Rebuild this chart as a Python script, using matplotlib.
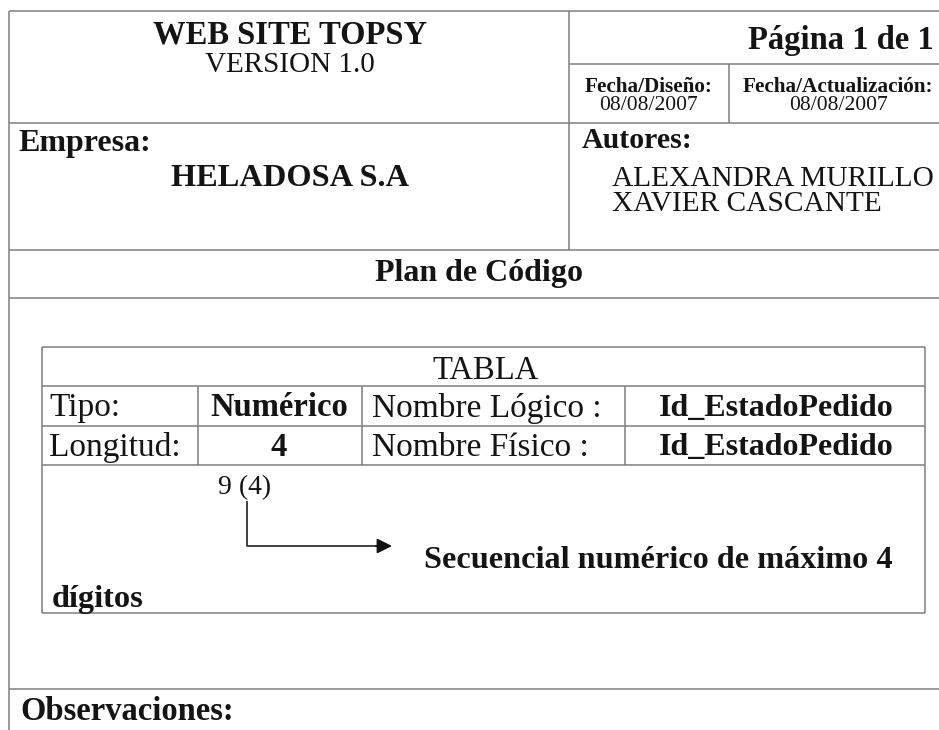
import matplotlib
matplotlib.use("Agg")
import matplotlib.pyplot as plt

# ---- content ----
title = "WEB SITE TOPSY"
version = "VERSION 1.0"
page = "Página 1 de 1"
date_labels = ["Fecha/Diseño:", "Fecha/Actualización:"]
date_values = ["08/08/2007", "08/08/2007"]
company_label = "Empresa:"
company = "HELADOSA S.A"
authors_label = "Autores:"
authors = ["ALEXANDRA MURILLO", "XAVIER CASCANTE"]
section = "Plan de Código"
table_title = "TABLA"
row_labels = ["Tipo:", "Longitud:"]
row_values = ["Numérico", "4"]
name_labels = ["Nombre Lógico :", "Nombre Físico :"]
name_values = ["Id_EstadoPedido", "Id_EstadoPedido"]
format_text = "9 (4)"
desc_line1 = "Secuencial numérico de máximo 4"
desc_line2 = "dígitos"
obs_label = "Observaciones:"

W, H = 939, 730
fig = plt.figure(figsize=(W / 100, H / 100), dpi=100)
ax = fig.add_axes([0, 0, 1, 1])
ax.set_xlim(0, W)
ax.set_ylim(H, 0)
ax.axis("off")

LC = "#7f7f7f"
LW = 1.1
TC = "#141414"
FF = "Liberation Serif"


def hline(y, x0, x1):
    ax.plot([x0, x1], [y, y], color=LC, lw=LW, solid_capstyle="butt")


def vline(x, y0, y1):
    ax.plot([x, x], [y0, y1], color=LC, lw=LW, solid_capstyle="butt")


def txt(x, y, s, size, bold=False, ha="left"):
    ax.text(x, y, s, fontsize=size, fontweight="bold" if bold else "normal",
            family=FF, color=TC, ha=ha, va="center")


# ---- outer frame ----
hline(11, 9, W)
vline(9, 11, H)
vline(569, 11, 250)
hline(64, 569, W)
vline(729, 64, 123)
hline(123, 9, W)
hline(250, 9, W)
hline(298, 9, W)
hline(689, 9, W)

# ---- header texts ----
txt(290, 35, title, 23.5, bold=True, ha="center")
txt(290, 65, version, 21, ha="center")
txt(934, 40, page, 23.5, bold=True, ha="right")
for cx, lab, val in zip([649, 838], date_labels, date_values):
    txt(cx, 87, lab, 15.3, bold=True, ha="center")
    txt(cx, 106, val, 15.5, ha="center")
txt(18, 143, company_label, 23, bold=True)
txt(290, 178, company, 23.3, bold=True, ha="center")
txt(582, 141, authors_label, 21.5, bold=True)
for i, a in enumerate(authors):
    txt(612, 179 + 25 * i, a, 21.2)
txt(479, 273, section, 23, bold=True, ha="center")

# ---- inner table ----
tx0, tx1, ty0, ty1 = 42, 925, 347, 613
hline(ty0, tx0, tx1)
hline(ty1, tx0, tx1)
vline(tx0, ty0, ty1)
vline(tx1, ty0, ty1)
row_lines = [386, 426, 465]
for y in row_lines:
    hline(y, tx0, tx1)
for x in [198, 362, 625]:
    vline(x, row_lines[0], row_lines[-1])
txt(486, 371, table_title, 23.5, ha="center")
for i in range(2):
    yc = (row_lines[i] + row_lines[i + 1]) / 2 + 2
    txt(49, yc, row_labels[i], 24)
    txt(279, yc, row_values[i], 23.5, bold=True, ha="center")
    txt(372, yc, name_labels[i], 24)
    txt(776, yc, name_values[i], 23, bold=True, ha="center")

txt(218, 488, format_text, 20)
ax.plot([247, 247, 378], [502, 546, 546], color="#333333", lw=1.3)
ax.annotate("", xy=(392, 546), xytext=(376, 546),
            arrowprops=dict(arrowstyle="-|>,head_length=0.9,head_width=0.45",
                            color="#111111", lw=1.3, shrinkA=0, shrinkB=0))
txt(893, 561, desc_line1, 23.2, bold=True, ha="right")
txt(52, 599, desc_line2, 23.3, bold=True)

txt(20, 712, obs_label, 23.5, bold=True)

fig.savefig("out.png", dpi=100, facecolor="white")
